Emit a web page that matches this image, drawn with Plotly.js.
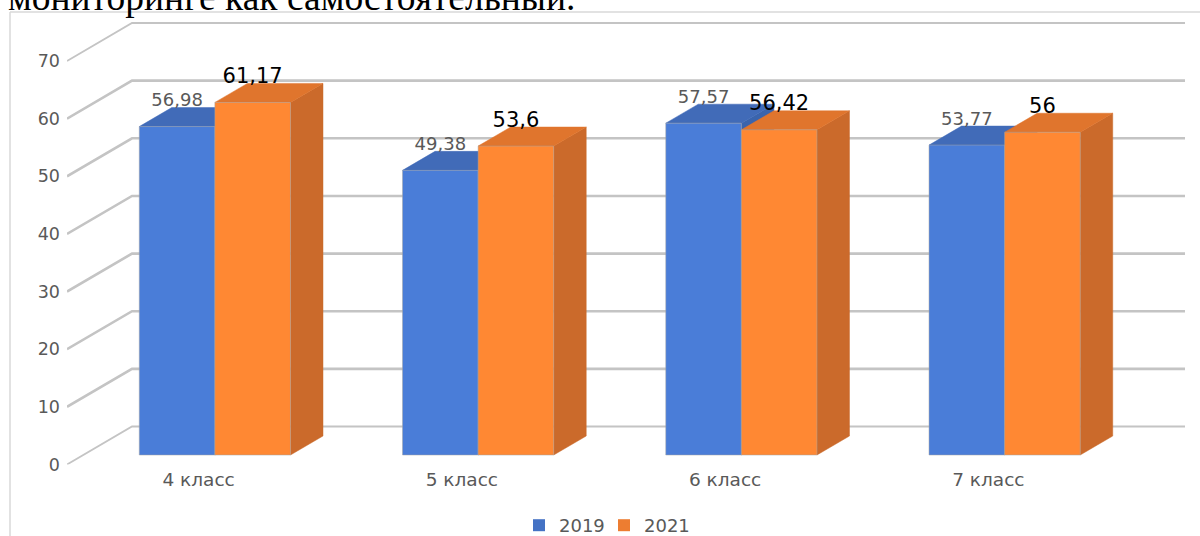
<!DOCTYPE html>
<html><head><meta charset="utf-8">
<script src="https://cdn.plot.ly/plotly-3.0.1.min.js"></script>
<style>html,body{margin:0;padding:0;background:#fff;overflow:hidden}#c{width:1200px;height:536px}</style>
</head><body><div id="c"></div>
<script>
const categories = ['4 класс', '5 класс', '6 класс', '7 класс'];
const values2019 = [56.98, 49.38, 57.57, 53.77];
const values2021 = [61.17, 53.6, 56.42, 56];
const labels2019 = ['56,98', '49,38', '57,57', '53,77'];
const labels2021 = ['61,17', '53,6', '56,42', '56'];
const yTicks = [0, 10, 20, 30, 40, 50, 60, 70];
const headingText = 'мониторинге как самостоятельный.';

// pseudo-3D projection constants, in axis units
const W = 0.2872, DX = 65 / 263.25, DV = 38 / 5.764;
const base = 0.25 * DV;
const catIdx = categories.map((_, i) => i);
const lefts = j => catIdx.map(i => i + 0.25 * DX + (j - 1) * W);

function poly(pts) {
  const x = [], y = [];
  pts.forEach(p => { p.forEach(q => { x.push(q[0]); y.push(q[1]); }); x.push(p[0][0], null); y.push(p[0][1], null); });
  return { x, y };
}
function faces(vals, j) {
  const L = lefts(j);
  const top = poly(vals.map((v, i) => {
    const l = L[i], r = l + W, t = base + v;
    return [[l, t], [r, t], [r + DX / 2, t + DV / 2], [l + DX / 2, t + DV / 2]];
  }));
  const side = poly(vals.map((v, i) => {
    const r = L[i] + W, t = base + v;
    return [[r, base], [r, t], [r + DX / 2, t + DV / 2], [r + DX / 2, base + DV / 2]];
  }));
  return { top, side };
}
function faceTrace(p, color, z) {
  return { type: 'scatter', mode: 'lines', x: p.x, y: p.y, fill: 'toself', fillcolor: color,
    line: { width: 0.5, color: color }, showlegend: false, hoverinfo: 'skip', zorder: z, cliponaxis: false };
}
function front(vals, j, color, z) {
  return { type: 'bar', x: lefts(j), y: vals, base: base, width: W, offset: 0, marker: { color: color, line: { color: 'rgba(165,165,165,0.5)', width: 1 } },
    showlegend: false, zorder: z, hoverinfo: 'y' };
}
function labelTrace(vals, labs, j, color, size, z) {
  return { type: 'scatter', mode: 'text', x: lefts(j).map(l => l + W / 2), y: vals.map(v => v + base + 4.3), text: labs,
    textposition: 'middle center', textfont: { family: 'DejaVu Sans', size: size, color: color }, showlegend: false, hoverinfo: 'skip', zorder: z, cliponaxis: false };
}
function legendTrace(name, color) {
  return { type: 'bar', name: name, x: [null], y: [null], marker: { color: color }, zorder: 0 };
}

const grid = yTicks.map(v => ({
  type: 'scatter', mode: 'lines',
  x: [-0.5, -0.5 + DX, 3.5 + DX], y: [v, v + DV, v + DV],
  line: { color: '#c4c4c4', width: (v === 0 || v === 70) ? 1.8 : 2.6 },
  showlegend: false, hoverinfo: 'skip', zorder: 0, cliponaxis: false
}));

const f19 = faces(values2019, 0), f21 = faces(values2021, 1);
const data = [
  ...grid,
  legendTrace('2019', '#4472c4'), legendTrace('2021', '#ed7d31'),
  faceTrace(f19.side, '#3a64ad', 1), faceTrace(f19.top, '#416bb8', 2), front(values2019, 0, '#4a7dd8', 3),
  faceTrace(f21.side, '#cb6a2b', 4), faceTrace(f21.top, '#e0752d', 5), front(values2021, 1, '#ff8833', 6),
  labelTrace(values2019, labels2019, 0, '#595959', 18, 7),
  labelTrace(values2021, labels2021, 1, '#000000', 21, 7)
];

const plotL = 67, plotR = 1185, plotT = 12, plotB = 464.5;
const px = x => x / 1200, py = y => 1 - y / 536;

const layout = {
  width: 1200, height: 536, margin: { l: 0, r: 0, t: 0, b: 0, autoexpand: false }, paper_bgcolor: '#fff', plot_bgcolor: 'rgba(0,0,0,0)',
  barmode: 'overlay', showlegend: true,
  font: { family: 'DejaVu Sans', color: '#595959' },
  xaxis: { domain: [px(plotL), px(plotR)], range: [-0.5, 3.5 + DX], tickmode: 'array', tickvals: catIdx, ticktext: categories, showgrid: false, zeroline: false, showline: false,
    ticks: '', ticklabelstandoff: 2, tickfont: { family: 'DejaVu Sans', size: 18.5, color: '#595959' }, fixedrange: true },
  yaxis: { domain: [py(plotB), py(plotT)], range: [0, (plotB - plotT) / 5.764], tickmode: 'array', tickvals: yTicks, showgrid: false, zeroline: false, showline: false,
    ticks: '', ticklabelstandoff: 6, tickfont: { family: 'DejaVu Sans', size: 17.5, color: '#595959' }, fixedrange: true },
  legend: { orientation: 'h', x: px(519), y: py(507), xanchor: 'left', yanchor: 'top', entrywidth: 40, entrywidthmode: 'pixels', font: { family: 'DejaVu Sans', size: 18, color: '#595959' }, bgcolor: 'rgba(0,0,0,0)' },
  shapes: [
    { type: 'line', xref: 'paper', yref: 'paper', x0: px(10), x1: px(10), y0: py(12), y1: py(536), line: { color: '#d9d9d9', width: 1.5 } },
    { type: 'line', xref: 'paper', yref: 'paper', x0: px(10), x1: px(1200), y0: py(12), y1: py(12), line: { color: '#d9d9d9', width: 1.5 } }
  ],
  annotations: [{ text: headingText, xref: 'paper', yref: 'paper', x: px(6), y: py(20), xanchor: 'left', yanchor: 'bottom', showarrow: false,
    font: { family: 'Liberation Serif', size: 37.5, color: '#000' } }]
};
Plotly.newPlot('c', data, layout, { displayModeBar: false, staticPlot: true });
</script></body></html>
